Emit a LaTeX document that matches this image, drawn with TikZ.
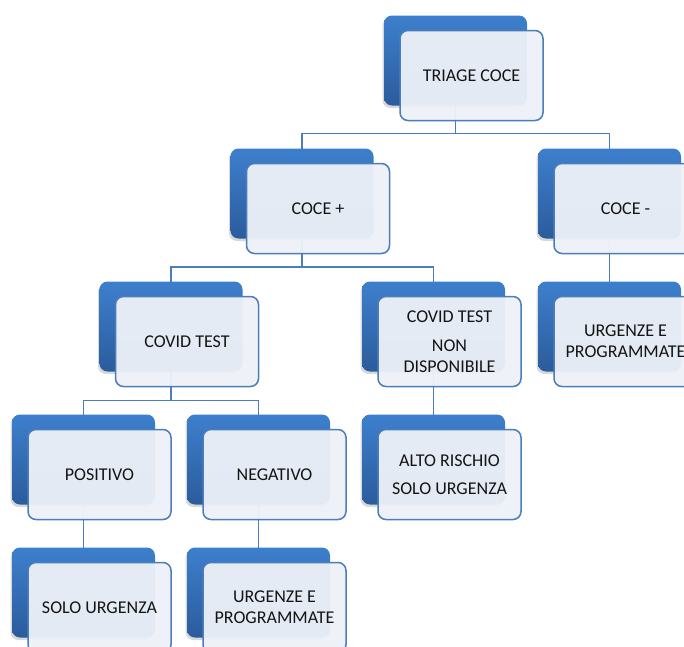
\documentclass[tikz,border=0pt]{standalone}
\usepackage{fontspec}
\setmainfont{Carlito}
\usepackage{xcolor}
\usepackage{tikz}
\usetikzlibrary{positioning, shadows, backgrounds}
\definecolor{bleuhaut}{HTML}{3D7FCD}
\definecolor{bleubas}{HTML}{2B5C9C}
\definecolor{contour}{HTML}{4A7DBA}
\definecolor{fondcarte}{HTML}{EEF2F8}
\definecolor{encre}{HTML}{141414}
\tikzset{
  fond/.style={rectangle, rounded corners=8pt, draw=none, top color=bleuhaut,
    bottom color=bleubas, minimum width=143pt, minimum height=90pt,
    inner sep=0pt, outer sep=0pt,
    drop shadow={shadow xshift=-1.5pt, shadow yshift=-2.5pt, opacity=.3}},
  carte/.style={rectangle, rounded corners=8pt, draw=contour, line width=1.5pt,
    fill=fondcarte, fill opacity=.95, text opacity=1, text=encre,
    font=\fontsize{18}{21}\selectfont, align=center,
    minimum width=143pt, minimum height=90pt, inner sep=2pt, outer sep=0pt,
    shift={(16pt,-15pt)}},
  lien/.style={line width=1.8pt, color=contour}
}
\begin{document}
\begin{tikzpicture}[node distance=43pt]
    \useasboundingbox (0,0) rectangle (684pt,-646pt);
    \clip (0,0) rectangle (684pt,-646pt);

    \node[fond] (fTriage) at (455.5pt,-60.5pt) {};
    \node[fond, below=of fTriage, xshift=-153.5pt] (fPlus) {};
    \node[fond, below=of fTriage, xshift=154pt] (fMoins) {};
    \node[fond, below=of fPlus, xshift=-131pt] (fCovid) {};
    \node[fond, below=of fPlus, xshift=131.5pt] (fNonDisp) {};
    \node[fond, below=of fMoins] (fUrgD) {};
    \node[fond, below=of fCovid, xshift=-87.5pt] (fPos) {};
    \node[fond, below=of fCovid, xshift=87.5pt] (fNeg) {};
    \node[fond, below=of fNonDisp] (fAlto) {};
    \node[fond, below=of fPos] (fSolo) {};
    \node[fond, below=of fNeg] (fUrgG) {};

    \node[carte] (triage) at (fTriage) {TRIAGE COCE};
    \node[carte] (plus) at (fPlus) {COCE +};
    \node[carte] (moins) at (fMoins) {COCE -};
    \node[carte] (covid) at (fCovid) {COVID TEST};
    \node[carte] (nondisp) at (fNonDisp) {COVID TEST\\[8pt] NON\\ DISPONIBILE};
    \node[carte] (urgd) at (fUrgD) {URGENZE E\\ PROGRAMMATE};
    \node[carte] (pos) at (fPos) {POSITIVO};
    \node[carte] (neg) at (fNeg) {NEGATIVO};
    \node[carte] (alto) at (fAlto) {ALTO RISCHIO\\[7pt] SOLO URGENZA};
    \node[carte] (solo) at (fSolo) {SOLO URGENZA};
    \node[carte] (urgg) at (fUrgG) {URGENZE E\\ PROGRAMMATE};

    \begin{scope}[on background layer]
      \fill[white] (0,0) rectangle (684pt,-646pt);
      \draw[lien] (fTriage.south) -- ++(0,-28pt) -| (fPlus.north);
      \draw[lien] (fTriage.south) -- ++(0,-28pt) -| (fMoins.north);
      \draw[lien] (fPlus.south) -- ++(0,-28.5pt) -| (fCovid.north);
      \draw[lien] (fPlus.south) -- ++(0,-28.5pt) -| (fNonDisp.north);
      \draw[lien] (fMoins) -- (fUrgD);
      \draw[lien] (fCovid.south) -- ++(0,-29pt) -| (fPos.north);
      \draw[lien] (fCovid.south) -- ++(0,-29pt) -| (fNeg.north);
      \draw[lien] (fNonDisp) -- (fAlto);
      \draw[lien] (fPos) -- (fSolo);
      \draw[lien] (fNeg) -- (fUrgG);
    \end{scope}
  \end{tikzpicture}
\end{document}
